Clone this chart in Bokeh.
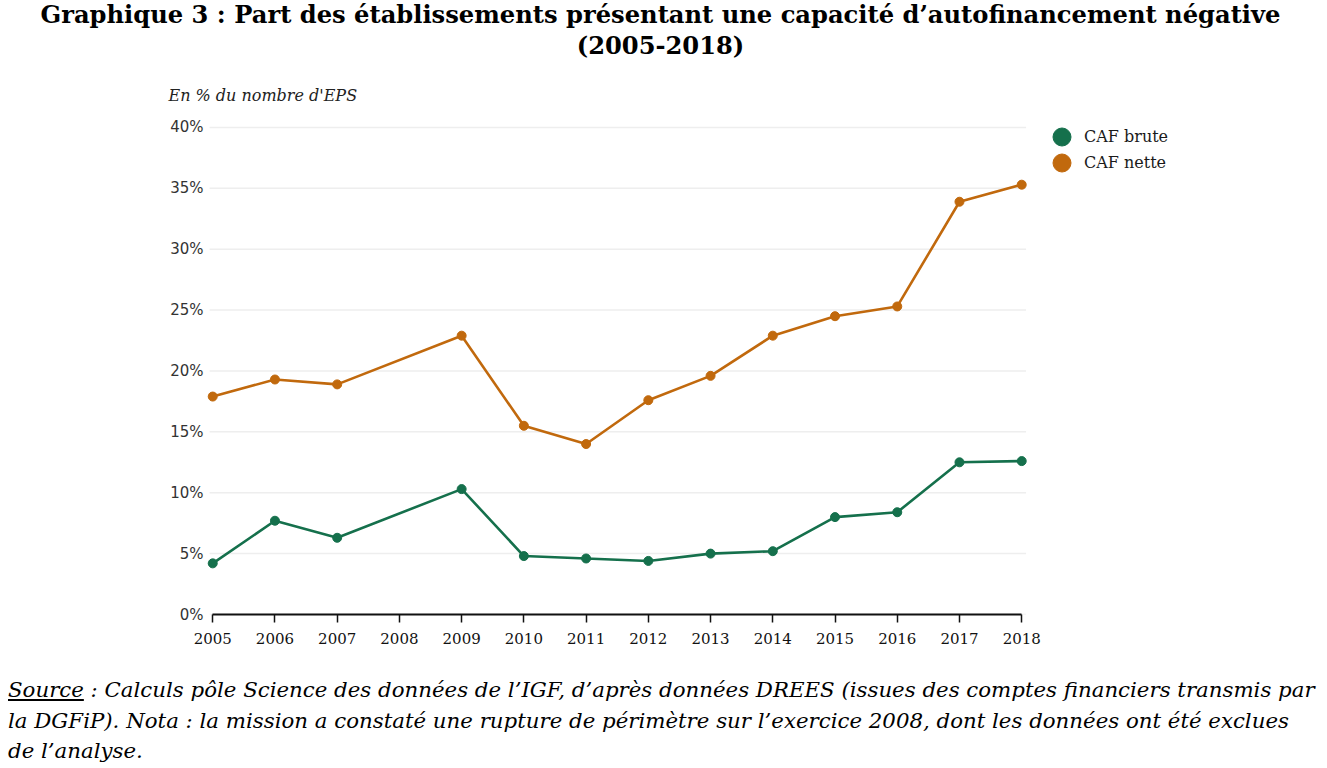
from bokeh.plotting import figure
from bokeh.models import Div, Legend, LegendItem, FixedTicker, Range1d
from bokeh.layouts import column
from bokeh.embed import file_html
from bokeh.resources import INLINE

years = [2005, 2006, 2007, 2008, 2009, 2010, 2011, 2012, 2013, 2014, 2015, 2016, 2017, 2018]
caf_brute = [4.2, 7.7, 6.3, None, 10.3, 4.8, 4.6, 4.4, 5.0, 5.2, 8.0, 8.4, 12.5, 12.6]
caf_nette = [17.9, 19.3, 18.9, None, 22.9, 15.5, 14.0, 17.6, 19.6, 22.9, 24.5, 25.3, 33.9, 35.3]
y_ticks = [0, 5, 10, 15, 20, 25, 30, 35, 40]
series_names = ["CAF brute", "CAF nette"]

GREEN = "#15704c"
ORANGE = "#c1690d"

FIG_W = 1311
BORDER_L = 206
PX_PER_YEAR = 62.23
x_start = years[0] - 0.1
x_end = x_start + (FIG_W - BORDER_L) / PX_PER_YEAR

p = figure(width=FIG_W, height=603, x_range=Range1d(x_start, x_end), y_range=Range1d(0, 41.23),
           output_backend="svg", toolbar_location=None,
           min_border_left=BORDER_L, min_border_right=0, min_border_top=38, min_border_bottom=63)
p.outline_line_color = None
p.background_fill_color = "white"
p.border_fill_color = "white"

# unit label above the plot
p.title.text = "En % du nombre d'EPS"
p.title.text_font = "DejaVu Serif"
p.title.text_font_style = "italic"
p.title.text_font_size = "16px"
p.title.text_color = "#222222"
p.title.align = "left"
p.title.offset = -38
p.title.standoff = 16

# horizontal grid lines limited to the year span
p.xgrid.grid_line_color = None
p.ygrid.grid_line_color = None
p.segment(x0=[years[0] - 0.05] * len(y_ticks), x1=[years[-1] + 0.07] * len(y_ticks),
          y0=y_ticks, y1=y_ticks, line_color="#eeeeee", line_width=1.5)

renderers = {}
for name, vals, col in [(series_names[0], caf_brute, GREEN), (series_names[1], caf_nette, ORANGE)]:
    xs = [y for y, v in zip(years, vals) if v is not None]
    ys = [v for v in vals if v is not None]
    p.line(xs, ys, line_color=col, line_width=2.6)
    renderers[name] = p.scatter(xs, ys, size=9, fill_color=col, line_color=col)

# one legend per series so the big markers can sit close together
for name, ly in zip(series_names, [455, 429]):
    lg = Legend(items=[LegendItem(label=name, renderers=[renderers[name]], index=0)],
                location=(833, ly), orientation="vertical",
                glyph_width=45, glyph_height=45, label_standoff=0,
                padding=0, margin=0, border_line_color=None, background_fill_alpha=0,
                label_text_font="DejaVu Serif", label_text_font_size="16px",
                label_text_color="#1a1a1a")
    p.add_layout(lg, "center")

# x axis
xa = p.xaxis[0]
xa.ticker = FixedTicker(ticks=years)
xa.bounds = (years[0], years[-1])
xa.axis_line_color = "#111111"
xa.axis_line_width = 2
xa.major_tick_line_color = "#111111"
xa.major_tick_line_width = 1.5
xa.major_tick_out = 8
xa.major_tick_in = 0
xa.minor_tick_line_color = None
xa.major_label_standoff = 10
xa.major_label_text_font = "DejaVu Serif"
xa.major_label_text_font_size = "15px"
xa.major_label_text_color = "#111111"

# y axis
ya = p.yaxis[0]
ya.ticker = FixedTicker(ticks=y_ticks)
ya.major_label_overrides = {t: f"{t}%" for t in y_ticks}
ya.axis_line_color = None
ya.major_tick_line_color = None
ya.minor_tick_line_color = None
ya.major_tick_out = 0
ya.major_tick_in = 0
ya.major_label_standoff = 3
ya.major_label_text_font = "DejaVu Sans"
ya.major_label_text_font_size = "15px"
ya.major_label_text_color = "#333333"

title = Div(text=(
    "<div style=\"width:1311px; margin-top:-6px; text-align:center; white-space:nowrap; font-family:'DejaVu Serif'; "
    "font-weight:bold; font-size:24.2px; line-height:31px; color:#000;\">"
    "Graphique 3 : Part des établissements présentant une capacité d’autofinancement négative<br>(2005-2018)</div>"),
    width=1311, height=64)

note = Div(text=(
    "<div style=\"margin-top:-7px; padding-left:3px; white-space:nowrap; font-family:'DejaVu Serif'; font-style:italic; "
    "font-size:21.3px; line-height:30.5px; color:#000;\">"
    "<u>Source</u> : Calculs pôle Science des données de l’IGF, d’après données DREES (issues des comptes financiers transmis par<br>"
    "la DGFiP). Nota : la mission a constaté une rupture de périmètre sur l’exercice 2008, dont les données ont été exclues<br>"
    "de l’analyse.</div>"),
    width=1311, height=88)

layout = column(title, p, note, spacing=0)
open("out.html", "w").write(file_html(layout, INLINE))
